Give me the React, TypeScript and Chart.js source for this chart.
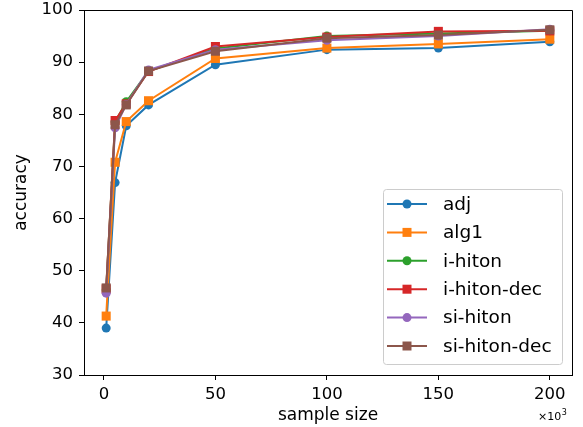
import React, { useEffect, useRef } from "react";
import { Chart, registerables } from "chart.js";

Chart.register(...registerables);

const SAMPLE_SIZES = [1000, 5000, 10000, 20000, 50000, 100000, 150000, 200000];
const SERIES_NAMES = ["adj", "alg1", "i-hiton", "i-hiton-dec", "si-hiton", "si-hiton-dec"];
const ADJ = [39.0, 66.9, 77.8, 81.8, 89.5, 92.4, 92.7, 93.9];
const ALG1 = [41.3, 70.8, 78.6, 82.6, 90.7, 92.7, 93.5, 94.4];
const I_HITON = [46.3, 78.5, 82.4, 88.3, 92.6, 95.0, 95.5, 96.0];
const I_HITON_DEC = [46.5, 78.8, 82.0, 88.2, 93.0, 94.8, 95.9, 96.0];
const SI_HITON = [45.7, 77.4, 81.9, 88.5, 92.4, 94.2, 95.0, 96.3];
const SI_HITON_DEC = [46.7, 78.0, 81.8, 88.3, 92.1, 94.6, 95.2, 96.2];
const SERIES_VALUES = [ADJ, ALG1, I_HITON, I_HITON_DEC, SI_HITON, SI_HITON_DEC];
const COLORS = ["#1f77b4", "#ff7f0e", "#2ca02c", "#d62728", "#9467bd", "#8c564b"];
const MARKERS = ["circle", "rect", "circle", "rect", "circle", "rect"];
const X_TICKS = [0, 50000, 100000, 150000, 200000];
const Y_TICKS = [30, 40, 50, 60, 70, 80, 90, 100];
const X_LABEL = "sample size";
const Y_LABEL = "accuracy";

const FONT = "'DejaVu Sans', sans-serif";

const extrasPlugin = {
  id: "extras",
  afterDraw(chart: any) {
    const { ctx, chartArea: a } = chart;
    ctx.save();
    // top and right spines
    ctx.strokeStyle = "#000";
    ctx.lineWidth = 1;
    ctx.beginPath();
    ctx.moveTo(Math.round(a.left) + 0.5, Math.round(a.top) + 0.5);
    ctx.lineTo(Math.round(a.right) + 0.5, Math.round(a.top) + 0.5);
    ctx.lineTo(Math.round(a.right) + 0.5, Math.round(a.bottom) + 0.5);
    ctx.stroke();

    // legend
    const w = 179;
    const h = 175;
    const bx = a.right - 10 - w;
    const by = a.bottom - 11 - h;
    ctx.beginPath();
    if (ctx.roundRect) ctx.roundRect(bx + 0.5, by + 0.5, w, h, 3);
    else ctx.rect(bx + 0.5, by + 0.5, w, h);
    ctx.fillStyle = "rgba(255,255,255,0.8)";
    ctx.fill();
    ctx.strokeStyle = "#cccccc";
    ctx.stroke();
    const rowH = 28.4;
    chart.data.datasets.forEach((ds: any, i: number) => {
      const cy = by + 15 + i * rowH;
      const x0 = bx + 4;
      const x1 = bx + 44;
      const mx = (x0 + x1) / 2;
      ctx.strokeStyle = ds.borderColor;
      ctx.lineWidth = 2;
      ctx.beginPath();
      ctx.moveTo(x0, cy);
      ctx.lineTo(x1, cy);
      ctx.stroke();
      ctx.fillStyle = ds.borderColor;
      ctx.beginPath();
      if (ds.pointStyle === "rect") {
        ctx.rect(mx - 4.5, cy - 4.5, 9, 9);
      } else {
        ctx.arc(mx, cy, 4.5, 0, Math.PI * 2);
      }
      ctx.fill();
      ctx.fillStyle = "#000";
      ctx.font = `18.5px ${FONT}`;
      ctx.textBaseline = "middle";
      ctx.textAlign = "left";
      ctx.fillText(ds.label, bx + 60, cy + 1);
    });

    // x10^3 offset text
    ctx.fillStyle = "#000";
    ctx.textBaseline = "alphabetic";
    ctx.textAlign = "left";
    ctx.font = `11px ${FONT}`;
    const mult = "\u00d710";
    const tx = a.right - 34;
    const ty = a.bottom + 45;
    ctx.fillText(mult, tx, ty);
    const mw = ctx.measureText(mult).width;
    ctx.font = `8px ${FONT}`;
    ctx.fillText("3", tx + mw + 0.5, ty - 5);
    ctx.restore();
  },
};

export default function App() {
  const ref = useRef<HTMLCanvasElement | null>(null);

  useEffect(() => {
    if (!ref.current) return;
    const n = SERIES_NAMES.length;
    const datasets = SERIES_NAMES.map((name, i) => ({
      label: name,
      data: SAMPLE_SIZES.map((x, j) => ({ x, y: SERIES_VALUES[i][j] })),
      borderColor: COLORS[i],
      backgroundColor: COLORS[i],
      pointBackgroundColor: COLORS[i],
      pointBorderColor: COLORS[i],
      pointBorderWidth: 0,
      pointStyle: MARKERS[i],
      pointRadius: MARKERS[i] === "rect" ? 6.4 : 4.5,
      pointHoverRadius: MARKERS[i] === "rect" ? 6.4 : 4.5,
      borderWidth: 2,
      tension: 0,
      fill: false,
      order: n - 1 - i,
    }));

    const tickGrid = {
      display: true,
      drawOnChartArea: false,
      drawTicks: true,
      tickLength: 5,
      tickColor: "#000",
      tickWidth: 1,
      color: "#000",
      lineWidth: 1,
    };

    const chart = new Chart(ref.current, {
      type: "line",
      data: { datasets },
      options: {
        animation: false,
        responsive: false,
        devicePixelRatio: 1,
        layout: { padding: { left: 0, right: 11, top: 10, bottom: 0 } },
        plugins: {
          legend: { display: false },
          tooltip: { enabled: false },
        },
        scales: {
          x: {
            type: "linear",
            min: -8950,
            max: 209950,
            grid: tickGrid,
            border: { display: true, color: "#000", width: 1 },
            afterBuildTicks: (s: any) => {
              s.ticks = X_TICKS.map((v) => ({ value: v }));
            },
            afterFit: (s: any) => {
              s.height = 52;
              s.paddingLeft = 0;
              s.paddingRight = 0;
              s.paddingTop = 0;
              s.paddingBottom = 0;
            },
            ticks: {
              color: "#000",
              font: { family: FONT, size: 16.5 },
              padding: 5,
              maxRotation: 0,
              autoSkip: false,
              callback: (v: any) => String(Number(v) / 1000),
            },
            title: {
              display: true,
              text: X_LABEL,
              color: "#000",
              font: { family: FONT, size: 17 },
              padding: { top: 0, bottom: 1 },
            },
          },
          y: {
            type: "linear",
            min: 30,
            max: 100,
            grid: tickGrid,
            border: { display: true, color: "#000", width: 1 },
            afterBuildTicks: (s: any) => {
              s.ticks = Y_TICKS.map((v) => ({ value: v }));
            },
            afterFit: (s: any) => {
              s.width = 84;
              s.paddingLeft = 0;
              s.paddingRight = 0;
              s.paddingTop = 0;
              s.paddingBottom = 0;
            },
            ticks: {
              color: "#000",
              font: { family: FONT, size: 16.5 },
              padding: 6,
              autoSkip: false,
              callback: (v: any) => String(v),
            },
            title: {
              display: true,
              text: Y_LABEL,
              color: "#000",
              font: { family: FONT, size: 17 },
              padding: { top: 11.2, bottom: 0 },
            },
          },
        },
      },
      plugins: [extrasPlugin],
    });
    return () => chart.destroy();
  }, []);

  return (
    <div style={{ position: "absolute", left: 0, top: 0, width: 583, height: 427 }}>
      <canvas ref={ref} width={583} height={427} style={{ display: "block" }} />
    </div>
  );
}
